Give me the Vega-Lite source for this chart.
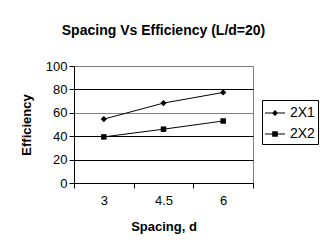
{
  "$schema": "https://vega.github.io/schema/vega-lite/v6.json",
  "width": 179,
  "height": 117,
  "autosize": {"type": "none"},
  "padding": {"left": 74, "top": 66, "right": 67, "bottom": 68},
  "background": "white",
  "title": {
    "text": "Spacing Vs Efficiency (L/d=20)",
    "font": "Liberation Sans",
    "fontSize": 14,
    "fontWeight": "bold",
    "color": "black",
    "anchor": "middle",
    "frame": "group",
    "offset": 22
  },
  "config": {
    "view": {"stroke": "#808080", "strokeWidth": 1},
    "font": "Liberation Sans"
  },
  "data": {
    "values": [
      {"Spacing": "3", "Efficiency": 54.6, "Series": "2X1"},
      {"Spacing": "4.5", "Efficiency": 68.3, "Series": "2X1"},
      {"Spacing": "6", "Efficiency": 77.4, "Series": "2X1"},
      {"Spacing": "3", "Efficiency": 39.4, "Series": "2X2"},
      {"Spacing": "4.5", "Efficiency": 46.0, "Series": "2X2"},
      {"Spacing": "6", "Efficiency": 53.0, "Series": "2X2"}
    ]
  },
  "encoding": {
    "x": {
      "field": "Spacing",
      "type": "ordinal",
      "sort": ["3", "4.5", "6"],
      "scale": {"paddingInner": 0, "paddingOuter": 0},
      "axis": {
        "title": "Spacing, d",
        "titleFont": "Liberation Sans",
        "titleFontSize": 13,
        "titleFontWeight": "bold",
        "titleColor": "black",
        "titlePadding": 13,
        "labelFont": "Liberation Sans",
        "labelFontSize": 13,
        "labelColor": "black",
        "labelAngle": 0,
        "labelPadding": 6,
        "tickBand": "extent",
        "tickSize": 5,
        "tickColor": "black",
        "domainColor": "black",
        "grid": false
      }
    },
    "y": {
      "field": "Efficiency",
      "type": "quantitative",
      "scale": {"domain": [0, 100], "nice": false},
      "axis": {
        "title": "Efficiency",
        "titleFont": "Liberation Sans",
        "titleFontSize": 13,
        "titleFontWeight": "bold",
        "titleColor": "black",
        "titlePadding": 12,
        "labelFont": "Liberation Sans",
        "labelFontSize": 13,
        "labelColor": "black",
        "labelPadding": 2,
        "values": [0, 20, 40, 60, 80, 100],
        "tickSize": 5,
        "tickColor": "black",
        "domainColor": "black",
        "grid": true,
        "gridColor": {
          "condition": {"test": "datum.value === 100 || datum.value === 60", "value": "#808080"},
          "value": "black"
        },
        "gridOpacity": 1
      }
    }
  },
  "layer": [
    {
      "mark": {"type": "line", "color": "black", "strokeWidth": 1},
      "encoding": {"detail": {"field": "Series", "type": "nominal"}}
    },
    {
      "mark": {"type": "point", "filled": true, "color": "black", "opacity": 1},
      "encoding": {
        "shape": {
          "field": "Series",
          "type": "nominal",
          "scale": {"domain": ["2X1", "2X2"], "range": ["diamond", "square"]},
          "legend": null
        },
        "size": {
          "field": "Series",
          "type": "nominal",
          "scale": {"domain": ["2X1", "2X2"], "range": [40, 30]},
          "legend": null
        }
      }
    },
    {
      "mark": {"type": "point", "filled": true, "color": "black", "opacity": 0, "size": 400},
      "encoding": {
        "shape": {
          "field": "Series",
          "type": "nominal",
          "scale": {
            "domain": ["2X1", "2X2"],
            "range": [
              "M-1,-0.05L1,-0.05L1,0.05L-1,0.05Z M0,-0.3L0.3,0L0,0.3L-0.3,0Z",
              "M-1,-0.05L1,-0.05L1,0.05L-1,0.05Z M-0.28,-0.28L0.28,-0.28L0.28,0.28L-0.28,0.28Z"
            ]
          },
          "legend": {
            "title": null,
            "orient": "none",
            "legendX": 188,
            "legendY": 34,
            "padding": 3,
            "strokeColor": "black",
            "fillColor": "white",
            "cornerRadius": 0,
            "symbolOpacity": 1,
            "symbolFillColor": "black",
            "symbolStrokeWidth": 0,
            "symbolSize": 400,
            "labelFont": "Liberation Sans",
            "labelFontSize": 14,
            "labelColor": "black",
            "labelOffset": 5,
            "rowPadding": 4,
            "encode": {
              "symbols": {"update": {"fill": {"value": "black"}, "opacity": {"value": 1}, "fillOpacity": {"value": 1}}}
            }
          }
        }
      }
    }
  ],
  "resolve": {"scale": {"shape": "independent", "size": "independent"}, "legend": {"shape": "independent"}}
}
